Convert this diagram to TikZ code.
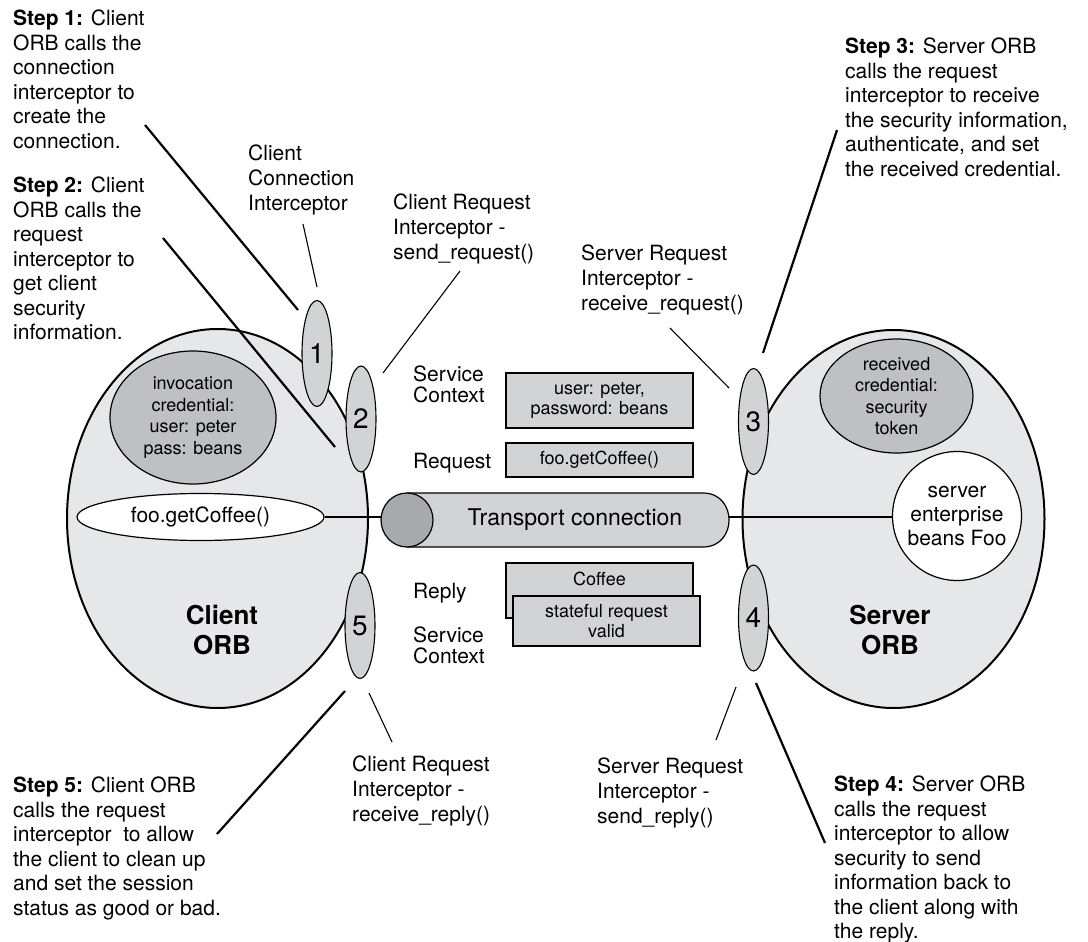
\documentclass[tikz,border=0pt]{standalone}
\usepackage{fontspec}
\setmainfont{TeX Gyre Heros}
\usetikzlibrary{shapes.geometric}
\definecolor{orbfill}{RGB}{230,231,232}
\definecolor{midfill}{RGB}{209,211,212}
\definecolor{credfill}{RGB}{190,192,194}
\definecolor{capfill}{RGB}{167,169,172}
\begin{document}
\begin{tikzpicture}[x=1pt,y=-1pt,
  orb/.style={ellipse, draw, line width=2pt, fill=orbfill, inner sep=0pt},
  cred/.style={ellipse, draw, line width=1.2pt, fill=credfill, inner sep=0pt, align=center, font=\fontsize{18}{21.6}\selectfont},
  whiteell/.style={ellipse, draw, line width=1.2pt, fill=white, inner sep=0pt, align=center, font=\fontsize{21}{24}\selectfont},
  intc/.style={ellipse, draw, fill=midfill, line width=1.1pt, minimum width=30pt, minimum height=106pt, inner sep=0pt, font=\fontsize{28}{30}\selectfont},
  msgbox/.style={rectangle, draw, fill=midfill, line width=1.1pt, inner sep=0pt, align=center, font=\fontsize{18}{20.5}\selectfont},
  txt/.style={anchor=north west, inner sep=0pt, align=left, font=\fontsize{21}{24.5}\selectfont},
  lbl/.style={anchor=north west, inner sep=0pt, align=left, font=\fontsize{21}{25}\selectfont},
  ctx/.style={anchor=north west, inner sep=0pt, align=left, font=\fontsize{21}{20.8}\selectfont},
  orblbl/.style={inner sep=0pt, align=center, font=\fontsize{26}{30}\selectfont\bfseries},
  thinline/.style={line width=1.1pt},
  stepline/.style={line width=2.2pt}
]
\path[use as bounding box] (0,0) rectangle (1088,942);

% ORBs
\node[orb, minimum width=301pt, minimum height=379pt] (corb) at (217.5,518.5) {};
\node[orb, minimum width=302pt, minimum height=378pt] (sorb) at (893.5,519) {};

% credentials
\node[cred, minimum width=166pt, minimum height=133pt] (icred) at (193,417.5) {invocation\\credential:\\user: peter\\pass: beans};
\node[cred, minimum width=153pt, minimum height=114pt] (rcred) at (896.5,396) {received\\credential:\\security\\token};

% foo ellipse and bean
\node[whiteell, minimum width=247pt, minimum height=47pt] (foo) at (200.5,517) {foo.getCoffee()};
\node[circle, draw, fill=white, line width=1.2pt, minimum size=129pt, inner sep=0pt, align=center, font=\fontsize{21}{24}\selectfont] (bean) at (957,516) {server\\enterprise\\beans Foo};

% transport connection
\coordinate (tubeL) at (381,520);
\coordinate (tubeR) at (729,520);
\draw[thinline] (foo.east) -- (tubeL |- foo.east);
\draw[thinline] (tubeR |- foo.east) -- (bean.west |- foo.east);
\draw[line width=1.2pt, fill=midfill] (407,493) -- (703,493) .. controls (737.7,493) and (737.7,547) .. (703,547) -- (407,547);
\node[ellipse, draw, fill=capfill, line width=1.2pt, minimum width=52pt, minimum height=54pt, inner sep=0pt] (tcap) at (407,520) {};
\node[inner sep=0pt, font=\fontsize{23}{27}\selectfont] (tube) at (575,520) {Transport connection};

% interceptor ellipses
\node[intc] (i1) at (317,353.5) {1};
\node[intc] (i2) at (361,419) {2};
\node[intc] (i5) at (360,625.5) {5};
\node[intc] (i3) at (753.5,421.5) {3};
\node[intc] (i4) at (753.5,618) {4};

% message boxes
\node[msgbox, minimum width=187pt, minimum height=55pt] (b1) at (599.5,400.5) {user: peter,\\password: beans};
\node[msgbox, minimum width=187pt, minimum height=34pt] (b2) at (599.5,460) {foo.getCoffee()};
\node[msgbox, minimum width=187pt, minimum height=55pt] (b3) at (599.5,590.5) {};
\node[inner sep=0pt, font=\fontsize{18}{20.5}\selectfont] (b3t) at (599.5,579) {Coffee};
\node[msgbox, minimum width=187pt, minimum height=50pt] (b4) at (606.5,621) {stateful request\\valid};

% message labels
\node[ctx] (sc1) at (413,366) {Service\\Context};
\node[ctx] (req) at (413,452.5) {Request};
\node[ctx] (rep) at (413,583) {Reply};
\node[ctx] (sc2) at (413,627) {Service\\Context};

% ORB labels
\node[orblbl] (corbl) at (222,630) {Client\\ORB};
\node[orblbl] (sorbl) at (890,630) {Server\\ORB};

% interceptor labels
\node[lbl] (cci) at (248,145) {Client\\Connection\\Interceptor};
\node[lbl] (crs) at (393,194) {Client Request\\Interceptor -\\send\_request()};
\node[lbl] (srr) at (581,245) {Server Request\\Interceptor -\\receive\_request()};
\node[lbl] (crr) at (352,756) {Client Request\\Interceptor -\\receive\_reply()};
\node[lbl] (srs) at (597,758) {Server Request\\Interceptor -\\send\_reply()};

% step texts
\node[txt] (st1) at (13,10) {\textbf{Step 1:} Client\\ORB calls the\\connection\\interceptor to\\create the\\connection.};
\node[txt] (st2) at (13,177) {\textbf{Step 2:} Client\\ORB calls the\\request\\interceptor to\\get client\\security\\information.};
\node[txt] (st3) at (845,38) {\textbf{Step 3:} Server ORB\\calls the request\\interceptor to receive\\the security information,\\authenticate, and set\\the received credential.};
\node[txt] (st4) at (834,776) {\textbf{Step 4:} Server ORB\\calls the request\\interceptor to allow\\security to send\\information back to\\the client along with\\the reply.};
\node[txt] (st5) at (13,777) {\textbf{Step 5:} Client ORB\\calls the request\\interceptor\ \ to allow\\the client to clean up\\and set the session\\status as good or bad.};

% connector end points
\coordinate (c1a) at (303,224);  \coordinate (c1b) at (317,287);
\coordinate (c2a) at (460,271);  \coordinate (c2b) at (383,373);
\coordinate (c3a) at (670,328);  \coordinate (c3b) at (729,388);
\coordinate (c4a) at (736,687);  \coordinate (c4b) at (716,740);
\coordinate (c5a) at (369,693);  \coordinate (c5b) at (392,742);
\coordinate (s1a) at (145,125);  \coordinate (s1b) at (298,310);
\coordinate (s2a) at (163,238);  \coordinate (s2b) at (335,447);
\coordinate (s3a) at (837,130);  \coordinate (s3b) at (763,353);
\coordinate (s4a) at (756,683);  \coordinate (s4b) at (825,843);
\coordinate (s5a) at (217,834);  \coordinate (s5b) at (345,691);

% connectors
\draw[thinline] (c1a) -- (c1b);
\draw[thinline] (c2a) -- (c2b);
\draw[thinline] (c3a) -- (c3b);
\draw[thinline] (c4a) -- (c4b);
\draw[thinline] (c5a) -- (c5b);
\draw[stepline] (s1a) -- (s1b);
\draw[stepline] (s2a) -- (s2b);
\draw[stepline] (s3a) -- (s3b);
\draw[stepline] (s4a) -- (s4b);
\draw[stepline] (s5a) -- (s5b);
\end{tikzpicture}
\end{document}
